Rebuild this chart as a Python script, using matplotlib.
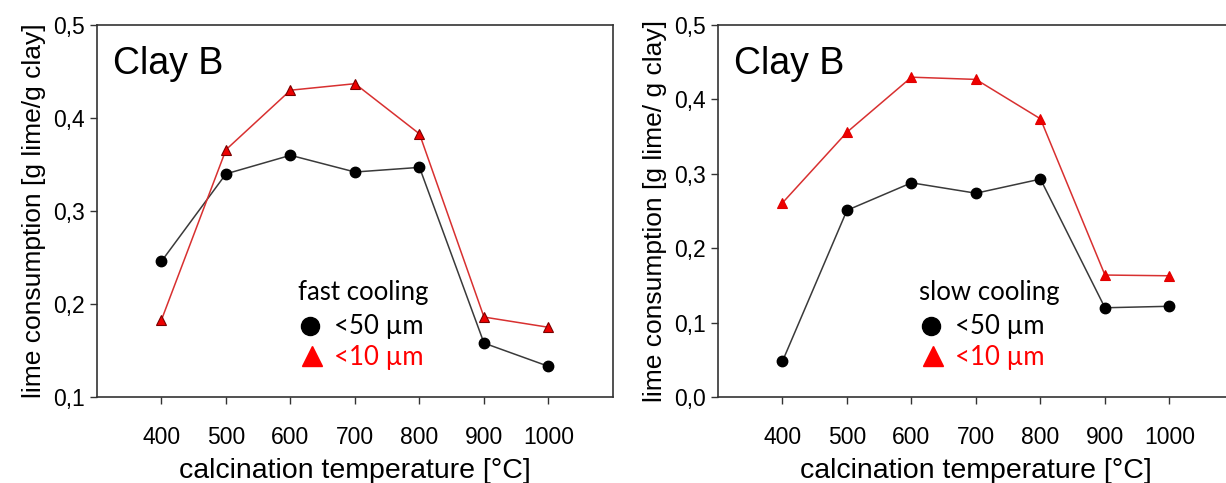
import matplotlib

matplotlib.use("Agg")
import matplotlib.pyplot as plt
from matplotlib.ticker import FuncFormatter

plt.rcParams["font.family"] = ["Liberation Sans", "DejaVu Sans"]

# calcination temperature [°C]
temps = [400, 500, 600, 700, 800, 900, 1000]

# fast cooling (left panel)
fast_50 = [0.246, 0.340, 0.360, 0.342, 0.347, 0.158, 0.133]
fast_10 = [0.183, 0.366, 0.430, 0.437, 0.383, 0.186, 0.175]

# slow cooling (right panel)
slow_50 = [0.048, 0.251, 0.288, 0.274, 0.293, 0.120, 0.122]
slow_10 = [0.261, 0.356, 0.430, 0.427, 0.374, 0.164, 0.163]

panels = [
    dict(rect=[0.0791, 0.178, 0.4209, 0.770], s50=fast_50, s10=fast_10,
         ylim=(0.1, 0.5), yticks=[0.1, 0.2, 0.3, 0.4, 0.5],
         ylabel="lime consumption [g lime/g clay]", title="fast cooling",
         tri_edge="#7a0000"),
    dict(rect=[0.5856, 0.178, 0.4209, 0.770], s50=slow_50, s10=slow_10,
         ylim=(0.0, 0.5), yticks=[0.0, 0.1, 0.2, 0.3, 0.4, 0.5],
         ylabel="lime consumption [g lime/ g clay]", title="slow cooling",
         tri_edge="#e00000"),
]

comma = FuncFormatter(lambda v, _: f"{v:.1f}".replace(".", ","))
legend_font = ["Lato", "DejaVu Sans"]

fig = plt.figure(figsize=(12.26, 4.83), dpi=100)

for p in panels:
    ax = fig.add_axes(p["rect"])
    ax.plot(temps, p["s50"], "-", color="#3a3a3a", linewidth=1.1, zorder=2)
    ax.plot(temps, p["s50"], "o", color="black", markersize=7.5, zorder=3)
    ax.plot(temps, p["s10"], "-", color="#d83030", linewidth=1.1, zorder=2)
    ax.plot(temps, p["s10"], "^", color="#ee0000", markeredgecolor=p["tri_edge"],
            markeredgewidth=0.8, markersize=7.5, zorder=3)

    ax.set_xlim(300, 1100)
    ax.set_ylim(*p["ylim"])
    ax.set_xticks(temps)
    ax.set_yticks(p["yticks"])
    ax.yaxis.set_major_formatter(comma)
    ax.tick_params(axis="both", labelsize=16.5, length=5, width=1, color="#333333")
    ax.tick_params(axis="x", pad=16)
    ax.tick_params(axis="y", pad=4)
    for s in ax.spines.values():
        s.set_color("#333333")
        s.set_linewidth(1.2)
    ax.set_xlabel("calcination temperature [°C]", fontsize=20.5, labelpad=6)
    ax.set_ylabel(p["ylabel"], fontsize=19, labelpad=5)

    ax.text(0.031, 0.895, "Clay B", transform=ax.transAxes, fontsize=27,
            va="center", ha="left")
    ax.text(0.39, 0.282, p["title"], transform=ax.transAxes, fontsize=18.5,
            family=legend_font, va="center", ha="left")
    ax.plot([0.413], [0.19], "o", color="black", markersize=13,
            transform=ax.transAxes, clip_on=False)
    ax.text(0.46, 0.19, "<50 µm", transform=ax.transAxes, fontsize=18.5,
            family=legend_font, va="center", ha="left")
    ax.plot([0.417], [0.11], "^", color="#ff0000", markersize=15,
            transform=ax.transAxes, clip_on=False)
    ax.text(0.46, 0.105, "<10 µm", transform=ax.transAxes, fontsize=18.5,
            color="#ff0000", family=legend_font, va="center", ha="left")

fig.savefig("out.png", dpi=100)
